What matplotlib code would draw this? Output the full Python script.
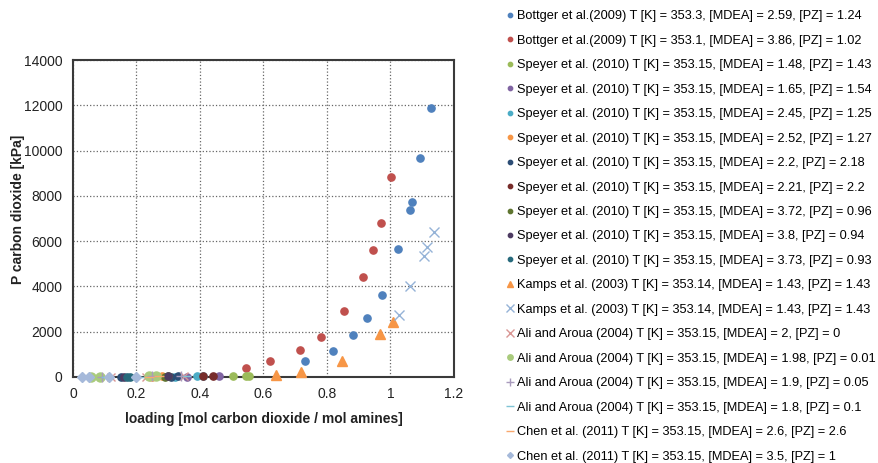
import matplotlib
matplotlib.use("Agg")
import matplotlib.pyplot as plt

plt.rcParams['font.family'] = ['Liberation Sans', 'DejaVu Sans']

# CO2 partial pressure over aqueous MDEA/PZ blends, data per source
labels = [
    "Bottger et al.(2009) T [K] = 353.3, [MDEA] = 2.59, [PZ] = 1.24",
    "Bottger et al.(2009) T [K] = 353.1, [MDEA] = 3.86, [PZ] = 1.02",
    "Speyer et al. (2010) T [K] = 353.15, [MDEA] = 1.48, [PZ] = 1.43",
    "Speyer et al. (2010) T [K] = 353.15, [MDEA] = 1.65, [PZ] = 1.54",
    "Speyer et al. (2010) T [K] = 353.15, [MDEA] = 2.45, [PZ] = 1.25",
    "Speyer et al. (2010) T [K] = 353.15, [MDEA] = 2.52, [PZ] = 1.27",
    "Speyer et al. (2010) T [K] = 353.15, [MDEA] = 2.2, [PZ] = 2.18",
    "Speyer et al. (2010) T [K] = 353.15, [MDEA] = 2.21, [PZ] = 2.2",
    "Speyer et al. (2010) T [K] = 353.15, [MDEA] = 3.72, [PZ] = 0.96",
    "Speyer et al. (2010) T [K] = 353.15, [MDEA] = 3.8, [PZ] = 0.94",
    "Speyer et al. (2010) T [K] = 353.15, [MDEA] = 3.73, [PZ] = 0.93",
    "Kamps et al. (2003) T [K] = 353.14, [MDEA] = 1.43, [PZ] = 1.43",
    "Kamps et al. (2003) T [K] = 353.14, [MDEA] = 1.43, [PZ] = 1.43",
    "Ali and Aroua (2004) T [K] = 353.15, [MDEA] = 2, [PZ] = 0",
    "Ali and Aroua (2004) T [K] = 353.15, [MDEA] = 1.98, [PZ] = 0.01",
    "Ali and Aroua (2004) T [K] = 353.15, [MDEA] = 1.9, [PZ] = 0.05",
    "Ali and Aroua (2004) T [K] = 353.15, [MDEA] = 1.8, [PZ] = 0.1",
    "Chen et al. (2011) T [K] = 353.15, [MDEA] = 2.6, [PZ] = 2.6",
    "Chen et al. (2011) T [K] = 353.15, [MDEA] = 3.5, [PZ] = 1",
]

bottger1_x = [0.732, 0.819, 0.881, 0.926, 0.972, 1.024, 1.061, 1.069, 1.093, 1.126]
bottger1_y = [680, 1160, 1860, 2620, 3600, 5640, 7380, 7740, 9650, 11860]
bottger2_x = [0.544, 0.620, 0.714, 0.780, 0.855, 0.912, 0.945, 0.970, 1.001]
bottger2_y = [400, 680, 1190, 1780, 2930, 4420, 5610, 6790, 8810]

speyer1_x = [0.505, 0.545, 0.555]
speyer1_y = [20, 40, 60]
speyer2_x = [0.36, 0.46]
speyer2_y = [10, 30]
speyer3_x = [0.32, 0.39, 0.41]
speyer3_y = [10, 30, 50]
speyer4_x = [0.25, 0.28]
speyer4_y = [10, 25]
speyer5_x = [0.15, 0.31, 0.33]
speyer5_y = [5, 15, 30]
speyer6_x = [0.41, 0.44]
speyer6_y = [20, 40]
speyer7_x = [0.29, 0.30]
speyer7_y = [15, 30]
speyer8_x = [0.16, 0.30]
speyer8_y = [5, 20]
speyer9_x = [0.17, 0.18]
speyer9_y = [8, 15]

kamps1_x = [0.641, 0.717, 0.848, 0.967, 1.009]
kamps1_y = [100, 210, 680, 1890, 2430]
kamps2_x = [1.027, 1.062, 1.104, 1.115, 1.137]
kamps2_y = [2730, 4010, 5360, 5720, 6380]

ali1_x = [0.07, 0.12, 0.23, 0.35]
ali1_y = [2, 5, 15, 40]
ali2_x = [0.058, 0.084, 0.24, 0.26]
ali2_y = [3, 6, 20, 30]
ali3_x = [0.09, 0.25, 0.34]
ali3_y = [4, 18, 35]
ali4_x = [0.10, 0.22, 0.36]
ali4_y = [4, 12, 40]

chen1_x = [0.24, 0.27]
chen1_y = [10, 25]
chen2_x = [0.03, 0.05, 0.113, 0.2]
chen2_y = [2, 3, 8, 15]

series_x = [bottger1_x, bottger2_x, speyer1_x, speyer2_x, speyer3_x, speyer4_x,
            speyer5_x, speyer6_x, speyer7_x, speyer8_x, speyer9_x, kamps1_x,
            kamps2_x, ali1_x, ali2_x, ali3_x, ali4_x, chen1_x, chen2_x]
series_y = [bottger1_y, bottger2_y, speyer1_y, speyer2_y, speyer3_y, speyer4_y,
            speyer5_y, speyer6_y, speyer7_y, speyer8_y, speyer9_y, kamps1_y,
            kamps2_y, ali1_y, ali2_y, ali3_y, ali4_y, chen1_y, chen2_y]

colors = ['#4F81BD', '#C0504D', '#9BBB59', '#8064A2', '#4BACC6', '#F79646',
          '#2C4D75', '#772C2A', '#5F7530', '#4D3B62', '#276A7C', '#F79646',
          '#95B3D7', '#D99694', '#A9CB7C', '#A99BBD', '#7FC4D6', '#F9A86E',
          '#A5B9DA']
markers = ['o', 'o', 'o', 'o', 'o', 'o', 'o', 'o', 'o', 'o', 'o', '^',
           'x', 'x', 'o', '+', '_', '_', 'D']
sizes = [5.2, 5.2, 5.2, 5.2, 5.2, 5.2, 5.2, 5.2, 5.2, 5.2, 5.2, 7,
         7.5, 6, 6.5, 7, 6, 7, 5]

fig = plt.figure(figsize=(8.79, 4.63), dpi=100)
ax = fig.add_axes([0.083, 0.186, 0.4335, 0.6844])

handles = []
for x, y, c, m, s, lab in zip(series_x, series_y, colors, markers, sizes, labels):
    h, = ax.plot(x, y, linestyle='none', marker=m, color=c, markersize=s,
                 markeredgewidth=1.0, label=lab, clip_on=False, zorder=3)
    handles.append(h)

ax.set_xlim(0, 1.2)
ax.set_ylim(0, 14000)
ax.set_xticks([0, 0.2, 0.4, 0.6, 0.8, 1, 1.2])
ax.set_xticklabels(['0', '0.2', '0.4', '0.6', '0.8', '1', '1.2'])
ax.set_yticks(range(0, 14001, 2000))
ax.tick_params(length=0, labelsize=10, labelcolor='#222222')
ax.tick_params(axis='x', pad=7.5)
ax.tick_params(axis='y', pad=7.5)
ax.grid(True, linestyle=':', color='#666666', linewidth=0.9)
ax.set_axisbelow(True)
for sp in ax.spines.values():
    sp.set_color('#3a3a3a')
    sp.set_linewidth(1.5)

ax.set_xlabel('loading [mol carbon dioxide / mol amines]', fontsize=10,
              fontweight='bold', color='#222222', labelpad=8)
ax.set_ylabel('P carbon dioxide [kPa]', fontsize=10, fontweight='bold',
              color='#222222')
ax.yaxis.set_label_coords(-0.125, 0.53)

leg = fig.legend(handles=handles, loc='upper left', bbox_to_anchor=(0.566, 0.997),
                 frameon=False, fontsize=9.2, markerscale=0.6, handlelength=0.6,
                 handletextpad=0.25, labelspacing=0.975, borderpad=0.2)

# line-type markers read too small once scaled down in the key
for lh, m in zip(leg.legend_handles, markers):
    if m in ('+', '_', 'x'):
        lh.set_markersize(6)

fig.savefig('out.png', dpi=100)
